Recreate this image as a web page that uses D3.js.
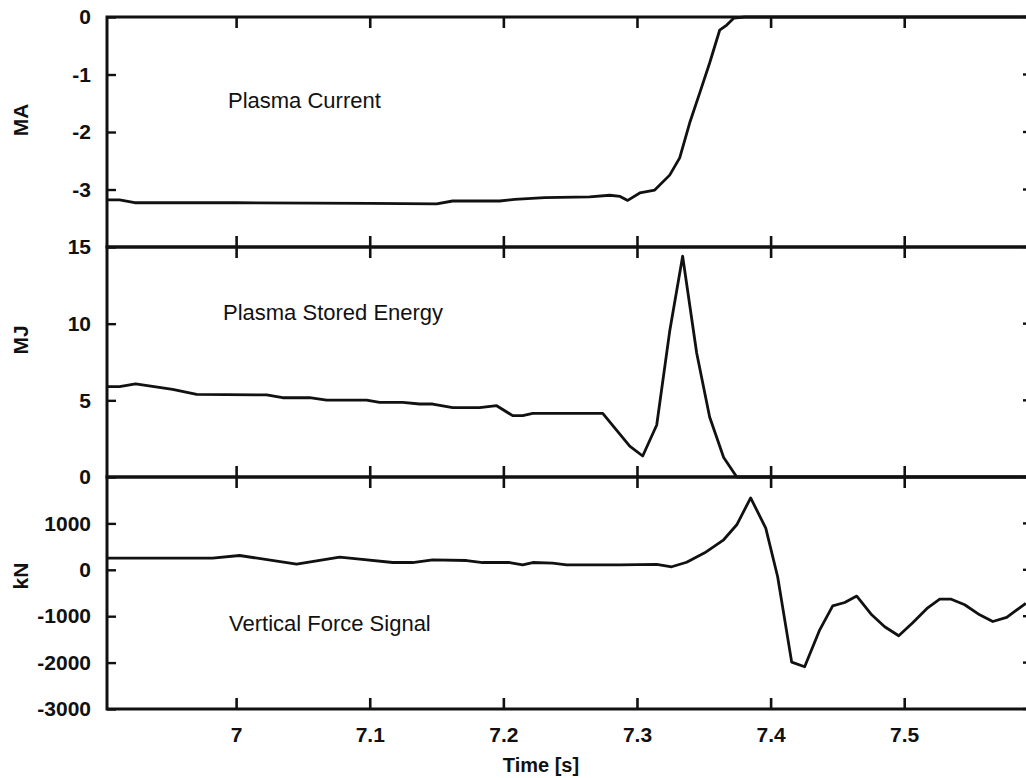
<!DOCTYPE html>
<html>
<head>
<meta charset="utf-8">
<script src="https://cdn.jsdelivr.net/npm/d3@7"></script>
<style>
  html, body { margin: 0; padding: 0; background: #fff; }
  svg { display: block; }
  text { font-family: "Liberation Sans", Arial, Helvetica, sans-serif; fill: #111; }
</style>
</head>
<body>
<svg id="chart" width="1026" height="778"></svg>
<script>
// ---- data -------------------------------------------------------------
const timeTicks = [7, 7.1, 7.2, 7.3, 7.4, 7.5];

// Plasma current [MA]
const currentTime = [6.9027, 6.9124, 6.9237, 7.0000, 7.1000, 7.1497, 7.1617, 7.1969, 7.2080,
  7.2305, 7.2642, 7.2792, 7.2870, 7.2927, 7.3017, 7.3129, 7.3241, 7.3316, 7.3391, 7.3466,
  7.3540, 7.3615, 7.3668, 7.3720, 7.3802, 7.5960];
const currentMA = [-3.18, -3.18, -3.23, -3.23, -3.24, -3.25, -3.20, -3.20, -3.17,
  -3.14, -3.13, -3.10, -3.12, -3.19, -3.06, -3.01, -2.75, -2.45, -1.84, -1.32,
  -0.80, -0.23, -0.14, -0.02, 0, 0];
const currentTicks = [0, -1, -2, -3];

// Plasma stored energy [MJ]
const energyTime = [6.9027, 6.9124, 6.9244, 6.9521, 6.9701, 7.0225, 7.0344, 7.0546, 7.0674,
  7.0973, 7.1070, 7.1243, 7.1370, 7.1467, 7.1617, 7.1819, 7.1946, 7.2066, 7.2141, 7.2216,
  7.2740, 7.2942, 7.3039, 7.3144, 7.3241, 7.3338, 7.3443, 7.3540, 7.3645, 7.3743, 7.5960];
const energyMJ = [5.89, 5.89, 6.07, 5.72, 5.39, 5.35, 5.17, 5.17, 5.02,
  5.02, 4.87, 4.87, 4.76, 4.76, 4.52, 4.52, 4.65, 4.00, 4.00, 4.15,
  4.15, 2.02, 1.37, 3.39, 9.5, 14.4, 8.09, 3.91, 1.27, 0, 0];
const energyTicks = [15, 10, 5, 0];

// Vertical force signal [kN]
const forceTime = [6.9027, 6.9820, 7.0022, 7.0449, 7.0771, 7.0921, 7.1168, 7.1317, 7.1467,
  7.1722, 7.1841, 7.2043, 7.2141, 7.2216, 7.2365, 7.2470, 7.2867, 7.3144, 7.3256, 7.3368,
  7.3503, 7.3645, 7.3743, 7.3847, 7.3960, 7.4049, 7.4154, 7.4251, 7.4364, 7.4461, 7.4551,
  7.4641, 7.4753, 7.4850, 7.4955, 7.5060, 7.5172, 7.5262, 7.5344, 7.5449, 7.5561, 7.5659,
  7.5763, 7.5906];
const forceKN = [252, 252, 308, 123, 274, 231, 157, 157, 216,
  200, 157, 157, 108, 157, 144, 108, 108, 115, 65, 162,
  366, 647, 970, 1550, 899, -150, -1990, -2090, -1293, -776, -705,
  -567, -970, -1228, -1422, -1142, -819, -631, -631, -754, -970, -1114,
  -1024, -722];
const forceTicks = [1000, 0, -1000, -2000, -3000];

// ---- layout -----------------------------------------------------------
const svg = d3.select("#chart");
const left = 107, right = 1033;
const ink = "#111";
const font = "'Liberation Sans', Arial, sans-serif";
const x = d3.scaleLinear().domain([6.903, 7.596]).range([left, right]);
const plain = d => String(d);   // keep ASCII hyphen for negatives

const panels = [
  { time: currentTime, vals: currentMA, domain: [-4, 0], top: 17, bottom: 247,
    ticks: currentTicks, unit: "MA", unitY: 120, name: "Plasma Current", nameX: 228, nameY: 108 },
  { time: energyTime, vals: energyMJ, domain: [0, 15], top: 247, bottom: 477,
    ticks: energyTicks, unit: "MJ", unitY: 340, name: "Plasma Stored Energy", nameX: 223, nameY: 320 },
  { time: forceTime, vals: forceKN, domain: [-3000, 2000], top: 477, bottom: 709,
    ticks: forceTicks, unit: "kN", unitY: 576, name: "Vertical Force Signal", nameX: 229, nameY: 631 }
];

panels.forEach((p, i) => {
  const y = d3.scaleLinear().domain(p.domain).range([p.bottom, p.top]);
  const g = svg.append("g");

  const clipId = "clip" + i;
  svg.append("clipPath").attr("id", clipId)
    .append("rect").attr("x", left).attr("y", p.top - 2)
    .attr("width", right - left).attr("height", p.bottom - p.top + 4);

  // signal trace
  const line = d3.line().x((d, k) => x(p.time[k])).y(d => y(d));
  g.append("path")
    .datum(p.vals)
    .attr("clip-path", `url(#${clipId})`)
    .attr("fill", "none")
    .attr("stroke", ink)
    .attr("stroke-width", 2.8)
    .attr("stroke-linejoin", "round")
    .attr("d", line);

  // left axis labels and inward ticks
  const ax = g.append("g").attr("transform", `translate(${left},0)`)
    .call(d3.axisLeft(y).tickValues(p.ticks).tickSize(-9).tickPadding(16).tickFormat(plain));
  ax.select(".domain").remove();
  ax.selectAll(".tick line").attr("stroke", ink).attr("stroke-width", 2.4);
  ax.selectAll(".tick text").attr("font-size", 21).attr("font-weight", "bold")
    .attr("fill", ink).attr("font-family", font);

  // right side inward ticks
  g.append("g").selectAll("line").data(p.ticks).join("line")
    .attr("x1", right - 10).attr("x2", right)
    .attr("y1", d => y(d)).attr("y2", d => y(d))
    .attr("stroke", ink).attr("stroke-width", 2.4);

  // time ticks on the top and bottom edges, pointing inward
  const tg = g.append("g");
  tg.selectAll("line.top").data(timeTicks).join("line").attr("class", "top")
    .attr("x1", d => x(d)).attr("x2", d => x(d))
    .attr("y1", p.top).attr("y2", p.top + 11)
    .attr("stroke", ink).attr("stroke-width", 2.6);
  tg.selectAll("line.bot").data(timeTicks).join("line").attr("class", "bot")
    .attr("x1", d => x(d)).attr("x2", d => x(d))
    .attr("y1", p.bottom).attr("y2", p.bottom - 11)
    .attr("stroke", ink).attr("stroke-width", 2.6);

  if (i === panels.length - 1) {
    g.append("g").selectAll("text").data(timeTicks).join("text")
      .attr("x", d => x(d)).attr("y", p.bottom + 33)
      .attr("text-anchor", "middle")
      .attr("font-size", 21).attr("font-weight", "bold")
      .text(plain);
  }

  // frame
  g.append("rect")
    .attr("x", left).attr("y", p.top)
    .attr("width", right - left).attr("height", p.bottom - p.top)
    .attr("fill", "none").attr("stroke", ink).attr("stroke-width", 3);

  // unit label
  g.append("text")
    .attr("transform", `translate(28,${p.unitY}) rotate(-90)`)
    .attr("text-anchor", "middle")
    .attr("font-size", 21).attr("font-weight", "bold")
    .text(p.unit);

  // panel caption
  g.append("text")
    .attr("x", p.nameX).attr("y", p.nameY)
    .attr("font-size", 22)
    .text(p.name);
});

svg.append("text")
  .attr("x", 541).attr("y", 772)
  .attr("text-anchor", "middle")
  .attr("font-size", 20).attr("font-weight", "bold")
  .text("Time [s]");
</script>
</body>
</html>
